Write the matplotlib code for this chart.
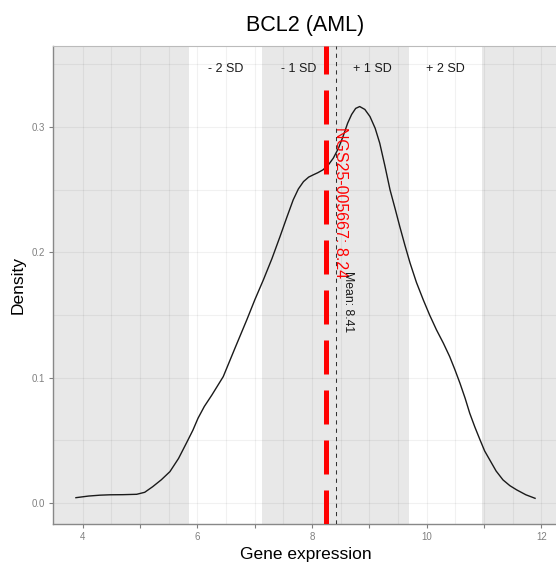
import matplotlib
matplotlib.use("Agg")
from matplotlib import pyplot as plt
import numpy as np

plt.rcParams['font.family'] = ['Liberation Sans', 'DejaVu Sans']

# density curve
density_x = [3.88, 4.10, 4.30, 4.47, 4.70, 4.94, 5.08, 5.22, 5.37, 5.52, 5.67, 5.81, 5.92,
             6.01, 6.12, 6.25, 6.45, 6.65, 6.86, 7.00, 7.15, 7.30, 7.44, 7.56, 7.67, 7.76,
             7.85, 7.94, 8.02, 8.10, 8.19, 8.28, 8.37, 8.46, 8.54, 8.62, 8.69, 8.76, 8.83,
             8.92, 9.01, 9.10, 9.18, 9.27, 9.36, 9.45, 9.53, 9.62, 9.71, 9.82, 9.94, 10.05,
             10.17, 10.29, 10.40, 10.49, 10.58, 10.67, 10.75, 10.84, 10.93, 11.01, 11.10,
             11.21, 11.33, 11.45, 11.57, 11.73, 11.89]
density_y = [0.0042, 0.0055, 0.0062, 0.0065, 0.0066, 0.0069, 0.0085, 0.0130, 0.0185, 0.0250,
             0.0355, 0.0480, 0.0580, 0.0676, 0.0770, 0.0860, 0.1008, 0.1230, 0.1460, 0.1620,
             0.1780, 0.1950, 0.2125, 0.2280, 0.2418, 0.2505, 0.2564, 0.2600, 0.2618, 0.2635,
             0.2658, 0.2695, 0.2751, 0.2830, 0.2924, 0.3030, 0.3100, 0.3148, 0.3163, 0.3140,
             0.3083, 0.2990, 0.2871, 0.2690, 0.2498, 0.2345, 0.2205, 0.2055, 0.1913, 0.1760,
             0.1620, 0.1500, 0.1381, 0.1275, 0.1168, 0.1065, 0.0955, 0.0835, 0.0716, 0.0605,
             0.0503, 0.0415, 0.0343, 0.0255, 0.0184, 0.0138, 0.0104, 0.0065, 0.0037]

gene = "BCL2"
cohort = "AML"
sample_id = "NGS25-005667"
sample_value = 8.24
mean_value = 8.41
sd_value = 1.28
sd_labels = ["- 2 SD", "- 1 SD", "+ 1 SD", "+ 2 SD"]
sd_label_pos = [-1.5, -0.5, 0.5, 1.5]

fig = plt.figure(figsize=(5.56, 5.62), dpi=100)
ax = fig.add_axes([53/556, 38/562, 505/556, 478/562])

xmin, xmax = 3.48, 12.29
ymin, ymax = -0.0168, 0.3646
ax.set_xlim(xmin, xmax)
ax.set_ylim(ymin, ymax)

# shaded bands: outside 2 SD and within 1 SD
band = '#E8E8E8'
ax.axvspan(xmin, mean_value - 2*sd_value, color=band, lw=0, zorder=0)
ax.axvspan(mean_value - sd_value, mean_value + sd_value, color=band, lw=0, zorder=0)
ax.axvspan(mean_value + 2*sd_value, xmax, color=band, lw=0, zorder=0)

# grid
for gx in np.arange(4, 12.01, 0.5):
    ax.axvline(gx, color='black', alpha=0.055, lw=0.8, zorder=1)
for gy in np.arange(0, 0.351, 0.05):
    ax.axhline(gy, color='black', alpha=0.055, lw=0.8, zorder=1)

ax.plot(density_x, density_y, color='#1a1a1a', lw=1.0, zorder=3)

ax.axvline(sample_value, color='#FF0000', lw=3.6, dashes=(6.8, 3.2), zorder=4, solid_capstyle='butt')
ax.axvline(mean_value, color='#333333', lw=0.75, dashes=(4, 4), zorder=4)

for lab, p in zip(sd_labels, sd_label_pos):
    ax.text(mean_value + p*sd_value, 0.3464, lab, ha='center', va='center', fontsize=9, color='#1a1a1a')

ax.text(8.49, 0.300, f"{sample_id}: {sample_value}", rotation=-90, ha='center', va='top',
        fontsize=11.5, color='#FF0000', zorder=5)
ax.text(8.63, 0.185, f"Mean: {mean_value}", rotation=-90, ha='center', va='top',
        fontsize=8.8, color='#1a1a1a', zorder=5)

ax.set_xticks(range(4, 13))
ax.set_xticklabels([str(v) if v % 2 == 0 else '' for v in range(4, 13)])
ax.set_yticks([0.0, 0.1, 0.2, 0.3])
ax.set_yticklabels(['0.0', '0.1', '0.2', '0.3'])
ax.tick_params(axis='both', length=3, width=0.8, color='#808080', labelcolor='#808080',
               labelsize=7, pad=3)

for side in ['left', 'bottom']:
    ax.spines[side].set_color('#888888')
    ax.spines[side].set_linewidth(1.0)
ax.spines['top'].set_color('#bbbbbb')
ax.spines['top'].set_linewidth(0.8)
ax.spines['right'].set_visible(False)

ax.set_title(f"{gene} ({cohort})", fontsize=15.5, pad=11)
ax.set_xlabel("Gene expression", fontsize=12.5, labelpad=3)
ax.set_ylabel("Density", fontsize=12.5, labelpad=4)

plt.savefig("out.png", dpi=100)
plt.close()
